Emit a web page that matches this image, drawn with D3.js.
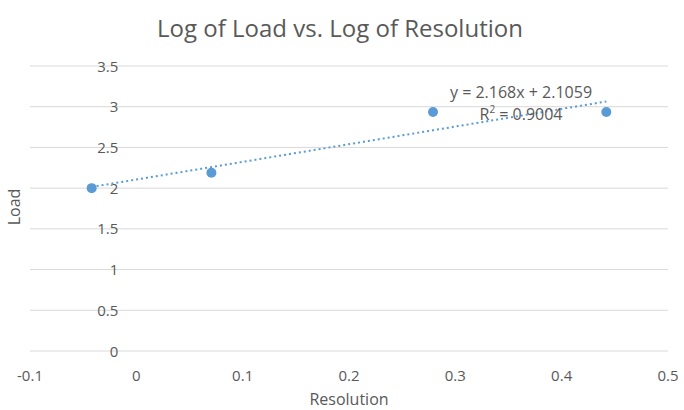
<!DOCTYPE html>
<html>
<head>
<meta charset="utf-8">
<script src="https://cdn.jsdelivr.net/npm/d3@7"></script>
<style>
  body { margin: 0; background: #fff; }
  text { font-family: "Open Sans", sans-serif; fill: #595959; }
</style>
</head>
<body>
<svg id="chart" width="684" height="410"></svg>
<script>
// data (log10 values)
var resolution = [-0.042, 0.0706, 0.279, 0.442];
var load = [2.0, 2.19, 2.935, 2.935];
var xTicks = [-0.1, 0, 0.1, 0.2, 0.3, 0.4, 0.5];
var yTicks = [0, 0.5, 1, 1.5, 2, 2.5, 3, 3.5];
var trendSlope = 2.168;
var trendIntercept = 2.1059;
var trendLabel = "y = 2.168x + 2.1059";
var rSquared = "0.9004";

var svg = d3.select("#chart");
var blue = "#5B9BD5";

var x = d3.scaleLinear().domain([-0.1, 0.5]).range([30, 668]);
var y = d3.scaleLinear().domain([0, 3.5]).range([351, 66]);

// title
svg.append("text")
  .attr("x", 340).attr("y", 37)
  .attr("text-anchor", "middle")
  .style("font-size", "24px")
  .text("Log of Load vs. Log of Resolution");

// gridlines
svg.append("g").selectAll("line").data(yTicks).enter().append("line")
  .attr("x1", x(-0.1)).attr("x2", x(0.5))
  .attr("y1", function(d) { return y(d); })
  .attr("y2", function(d) { return y(d); })
  .attr("stroke", "#D9D9D9").attr("stroke-width", 1);

// y tick labels sit beside the x=0 axis
svg.append("g").selectAll("text").data(yTicks).enter().append("text")
  .attr("x", x(0) - 18)
  .attr("y", function(d) { return y(d) + 5.5; })
  .attr("text-anchor", "end")
  .style("font-size", "15px")
  .text(function(d) { return d; });

// x tick labels
svg.append("g").selectAll("text").data(xTicks).enter().append("text")
  .attr("x", function(d) { return x(d); })
  .attr("y", 381)
  .attr("text-anchor", "middle")
  .style("font-size", "15px")
  .text(function(d) { return d; });

// axis titles
svg.append("text")
  .attr("x", 349).attr("y", 405)
  .attr("text-anchor", "middle")
  .style("font-size", "16px")
  .text("Resolution");

svg.append("text")
  .attr("transform", "translate(20,207) rotate(-90)")
  .attr("text-anchor", "middle")
  .style("font-size", "16px")
  .text("Load");

// trendline
var xMin = d3.min(resolution), xMax = d3.max(resolution);
svg.append("line")
  .attr("x1", x(xMin)).attr("y1", y(trendSlope * xMin + trendIntercept))
  .attr("x2", x(xMax)).attr("y2", y(trendSlope * xMax + trendIntercept))
  .attr("stroke", blue).attr("stroke-width", 2)
  .attr("stroke-dasharray", "2,3");

// points
svg.append("g").selectAll("circle").data(resolution).enter().append("circle")
  .attr("cx", function(d) { return x(d); })
  .attr("cy", function(d, i) { return y(load[i]); })
  .attr("r", 5)
  .attr("fill", blue);

// trend equation
svg.append("text")
  .attr("x", 521).attr("y", 98)
  .attr("text-anchor", "middle")
  .style("font-size", "16px")
  .text(trendLabel);

var r2 = svg.append("text")
  .attr("x", 521).attr("y", 120)
  .attr("text-anchor", "middle")
  .style("font-size", "16px");
r2.append("tspan").text("R");
r2.append("tspan").attr("dy", -7).style("font-size", "10px").text("2");
r2.append("tspan").attr("dy", 7).text(" = " + rSquared);
</script>
</body>
</html>
